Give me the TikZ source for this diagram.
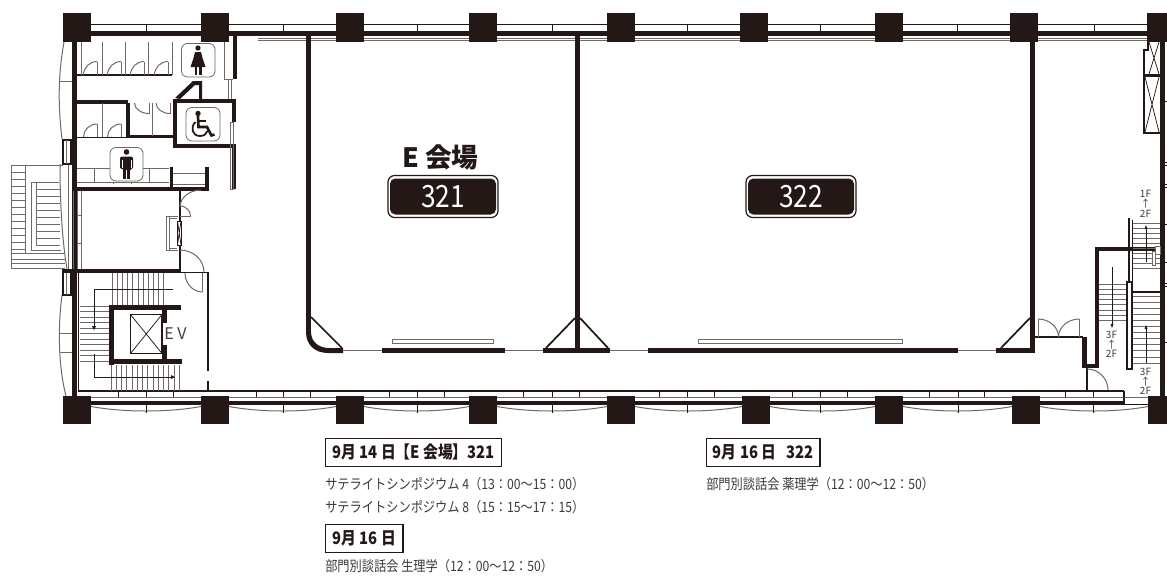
\documentclass[tikz,border=0pt]{standalone}
\usepackage{fontspec}
\newfontfamily\jp[FakeStretch=.86]{Noto Sans CJK JP}
\newfontfamily\jpw{Noto Sans CJK JP}
\definecolor{ink}{HTML}{231815}
\definecolor{gry}{HTML}{6F6A68}
\definecolor{txt}{HTML}{3E3A39}
\newcommand\W[4]{\fill[ink] (#1,#2) rectangle (#3,#4);}
\newcommand\DA[4]{(#1,#2) .. controls ({#1+.55*(#3-#1)},#2) and (#3,{#2+.45*(#4-#2)}) .. (#3,#4)}
\newcommand\fs[1]{\fontsize{#1}{#1}\selectfont}
\tikzset{
  thin ink/.style={draw=ink,line width=.8pt},
  hair/.style={draw=ink,line width=.55pt},
  grey/.style={draw=gry,line width=.75pt},
  sign/.style={draw=gry,line width=.6pt,rounded corners=4.5pt},
  box ink/.style={draw=ink,line width=1.5pt},
  room/.style={text=white,font=\jp\fs{23}},
  infobox/.style={draw=ink,line width=1pt,anchor=north west,inner sep=0pt,text=ink,font=\jp\bfseries\fs{12.9}},
  info/.style={anchor=west,inner sep=0pt,text=txt,font=\jp\fs{10.65}},
  floor/.style={text=txt,inner sep=0pt,font=\jpw\fs{7.5}}
}
\begin{document}
\begin{tikzpicture}[x=.75pt,y=-.75pt]
\useasboundingbox (0,0) rectangle (1167,575);
\fill[white] (0,0) rectangle (1167,575);
% ---------- top line and wall
\draw[thin ink] (91,24.5) -- (1147,24.5);
\foreach \x in {146,283,417,552,687,820,957,1094}{\draw[hair] (\x,24.5) -- (\x,31);}
\W{75}{31}{1165}{36}
\draw[grey] (258,38) -- (1147,38);
\draw[grey] (258,40) -- (1147,40);
% ---------- bottom line and wall
\draw[thin ink] (78,391) -- (1124,391);
\draw[grey] (91,397) -- (1124,397);
\W{75}{400.5}{1124}{405}
\draw[thin ink] (1124,391) -- (1124,404.5) -- (1148,404.5);
\draw[grey] (1124,397) -- (1148,397);
\foreach \x in {118,146,173,256,283,310,389,417,444,523,552,579,659,687,714,792,820,847,929,958,984,1065,1093}{\draw[hair] (\x,391) -- (\x,397);}
\foreach \a/\b/\c in {91/146/201,229/283/336,364/417/469,497/552/607,635/687/742,770/820/875,903/958/1012,1040/1093/1148}{
  \draw[grey] (\a,406.5) .. controls ({\a+.3*(\c-\a)},412.5) and ({\c-.3*(\c-\a)},412.5) .. (\c,406.5);
  \draw[hair] (\b,405) -- (\b,413);
}
% ---------- outer walls
\W{72}{42}{77}{396}
\W{1160}{42}{1165}{396}
\draw[thin ink] (78.5,273) -- (78.5,391);
\foreach \y in {101,162.5,165,184.5,187.5,224,262,283,286,342}{\draw[hair] (1165,\y) -- (1167,\y);}
% ---------- left bay windows
\draw[grey] (64,42) .. controls (58,75) and (58,105) .. (62,139);
\draw[grey] (60,81) -- (72,81);
\draw[grey] (62,295) .. controls (58,325) and (58,365) .. (66,396);
\draw[grey] (60,333) -- (72,333);
\draw[grey] (60,352) -- (72,352);
\draw[grey] (60,164) .. controls (60,200) and (62,240) .. (67,269);
\draw[grey] (68,164) -- (68,269);
\draw[grey] (73,190) -- (73,269);
\draw[grey] (77,190) -- (77,269);
\draw[grey] (81,190) -- (81,269);
\draw[grey] (77,215) -- (81,215);
\draw[grey] (77,243) -- (81,243);
\draw[box ink] (62.5,140) rectangle (71,164);
\draw[box ink] (62.5,270) rectangle (71,294.5);
\draw[grey] (66,140) -- (66,164);
\draw[grey] (66,270) -- (66,294.5);
% ---------- outside stair
\draw[grey] (11,165) -- (63,165);
\draw[grey] (11,165) -- (11,268) -- (65,268);
\draw[grey] (25,165) -- (25,253);
\draw[grey] (11,253) -- (64,253);
\draw[grey] (11,259) -- (65,259);
\draw[grey] (11,263) -- (65,263);
\foreach \y in {172,179,186,193,200,207,214,221,228,235,242,249}{\draw[grey] (11,\y) -- (25,\y);}
\draw[grey] (31,182) -- (31,250) -- (61,250);
\draw[grey] (36,182) -- (36,244.5);
\draw[grey] (31,182) -- (59,182);
\foreach \y in {189,196,203,210,217,224,231,238,245}{\draw[grey] (36,\y) -- (60,\y);}
% ---------- women's WC
\draw[thin ink] (77,75) -- (172,75);
\foreach \x in {81,102,125,148,172}{\draw[grey] (\x,42) -- (\x,75);}
\foreach \x in {97,121,144,168}{
  \draw[grey] (\x,61.5) -- (\x,75);
  \draw[grey] \DA{\x}{61.5}{\x-13.5}{75};
}
\draw[sign] (181.5,43.5) rectangle (215,77);
\fill[ink] (198,48) circle (2.6);
\fill[ink] (195,52) -- (201,52) -- (202.5,58) -- (205.5,67) -- (190.5,67) -- (193.5,58) -- cycle;
\fill[ink] (194.5,67) rectangle (197,75);
\fill[ink] (199,67) rectangle (201.5,75);
\draw[grey] (224,42) -- (224,79) -- (233,79);
\W{232.5}{36}{236.5}{79}
\draw[grey] (228.5,79) -- (228.5,99);
\draw[grey] (231.5,79) -- (231.5,99);
% ---------- accessible WC
\fill[ink] (175,98) -- (193,81) -- (202,81) -- (202,99) -- (199,99) -- (199,85) -- (195,85) -- (180,99) -- cycle;
\W{173}{99}{236}{103}
\W{232}{103}{236}{122}
\W{173}{99}{177}{147}
\W{173}{144}{236}{147.5}
\W{232}{144}{236}{189}
\draw[grey] (230,122) rectangle (233,189);
\draw[sign] (186,107.5) rectangle (220,141);
\fill[ink] (198,113.5) circle (2.7);
\draw[ink,line width=2pt] (198,116) -- (198.5,127) -- (207,127) -- (211.5,135.5) -- (214.5,134.5);
\draw[ink,line width=1.6pt] (198.5,121) -- (206,121);
\draw[ink,line width=1.3pt] (195.5,122) .. controls (190,127) and (192,136) .. (200,136) .. controls (204,136) and (206.5,134) .. (207.5,131);
% ---------- central stalls
\W{77}{100}{128}{103.5}
\W{126}{103}{129.5}{137}
\W{126}{135}{173}{138}
\draw[thin ink] (77,137.5) -- (126,137.5);
\draw[grey] (102,103) -- (102,137);
\foreach \x in {97,121}{
  \draw[grey] (\x,124) -- (\x,137);
  \draw[grey] \DA{\x}{124}{\x-13.5}{137};
}
\draw[grey] (152,103) -- (152,136);
\draw[grey] (149,103) -- (149,113.5);
\draw[grey] (170,103) -- (170,113.5);
\draw[grey] \DA{149}{113.5}{134.5}{103};
\draw[grey] \DA{170}{113.5}{156}{103};
% ---------- men's WC
\draw[sign] (110,147.5) rectangle (143,181);
\fill[ink] (126.5,152) circle (2.8);
\fill[ink,rounded corners=1.5pt] (120,156.5) rectangle (133,169);
\fill[ink] (122.5,160) rectangle (130.5,170);
\fill[ink] (122.8,168) rectangle (126,178.5);
\fill[ink] (127,168) rectangle (130.2,178.5);
\fill[white] (121.7,160) rectangle (122.4,168);
\fill[white] (130.6,160) rectangle (131.3,168);
\draw[grey] (77,168) -- (110,168);
\draw[grey] (143,168) -- (169,168);
\draw[grey] (77,182) -- (169,182);
\draw[grey] (94,168) -- (94,182);
\draw[grey] (149,168) -- (149,182);
\draw[grey] (113,182) -- (113,184);
\draw[grey] (131,182) -- (131,184);
\W{72}{187}{208.5}{190.5}
\W{169.5}{167}{173}{188}
\W{205}{167}{208.5}{190}
\draw[grey] (173,173) -- (205,173);
\draw[grey] (173,184) -- (205,184);
% ---------- lobby doors and device
\draw[ink,line width=1.2pt] (180,190) -- (180,270);
\draw[grey] \DA{201}{190}{180}{207};
\draw[grey] \DA{180}{206}{190.5}{216};
\draw[grey] (180,216) -- (190.5,216);
\draw[grey] (166,216) rectangle (169,250);
\draw[grey] (169,216) -- (178,216) (169,250) -- (178,250) (169,218) -- (177,218) (169,248) -- (177,248);
\draw[hair,fill=white] (177.5,221) rectangle (181,245);
\draw[hair] (177.5,221) -- (181,245) (181,221) -- (177.5,245);
\draw[grey] \DA{180}{250}{204}{272};
\W{62}{269}{181}{273}
\draw[thin ink] (181,272.5) -- (208,272.5);
\draw[ink,line width=1.1pt] (208,272) -- (208,371);
\draw[ink,line width=1.1pt] (208,381) -- (208,391);
\draw[grey] (202.5,273) -- (202.5,292);
\draw[grey] \DA{202.5}{292}{185}{273};
% ---------- elevator hall
\foreach \i in {0,...,10}{\draw[grey] ({112.5+5.1*\i},273) -- ({112.5+5.1*\i},305);}
\foreach \i in {0,...,10}{\draw[grey] (80,{306+5.5*\i}) -- (109,{306+5.5*\i});}
\foreach \i in {0,...,13}{\draw[grey] ({111+5.25*\i},365) -- ({111+5.25*\i},391);}
\W{109}{305}{114}{365}
\W{109}{305}{181}{310}
\W{109}{359}{182}{364}
\W{162}{310}{167}{323}
\W{162}{345}{167}{359}
\draw[thin ink] (130.5,314.5) rectangle (162,353.5);
\draw[hair] (130.5,314.5) -- (162,353.5) (162,314.5) -- (130.5,353.5);
\node (ev) [text=txt,inner sep=0pt,font=\jpw\fs{12}] at (175.5,334) {E V};
\draw[hair] (173,289) -- (94,289) -- (94,328);
\fill[ink] (92,326) -- (96,326) -- (94,330) -- cycle;
\draw[hair] (94,354) -- (94,377) -- (172,377);
\fill[ink] (171,375) -- (175,377) -- (171,379) -- cycle;
% ---------- rooms
\W{306}{36}{311}{333}
\fill[ink] (306,332) .. controls (306,345) and (315,353) .. (328,353) -- (343,353) -- (343,348) -- (329,348) .. controls (319,348) and (311,342) .. (311,332) -- cycle;
\draw[ink,line width=1.3pt] (311,317) -- (342,348);
\draw[grey] (343,350) -- (382,350);
\W{382}{348}{505}{353}
\draw[gry,line width=.7pt,fill=white] (392.5,339) rectangle (493.5,343);
\draw[grey] (505,350) -- (543,350);
\W{543}{348}{610}{353}
\W{575}{36}{580}{353}
\draw[ink,line width=1.3pt] (575,318) -- (546,348);
\draw[ink,line width=1.3pt] (580,318) -- (608,348);
\draw[grey] (610,350) -- (648,350);
\W{648}{348}{958}{353}
\draw[gry,line width=.7pt,fill=white] (698.5,339) rectangle (902.5,343);
\draw[grey] (958,350) -- (996,350);
\W{996}{348}{1035}{353}
\W{1030}{36}{1035}{353}
\draw[ink,line width=1.3pt] (1030,318) -- (1001,348);
% ---------- double door
\draw[thin ink] (1035,337) -- (1083,337);
\draw[grey] (1038,337) -- (1038,319);
\draw[grey] (1079.5,337) -- (1079.5,319);
\draw[grey] \DA{1038}{319}{1058.5}{337};
\draw[grey] \DA{1079.5}{319}{1058.5}{337};
% ---------- right stair core
\W{1095}{247}{1155}{251}
\W{1095}{247}{1099}{368}
\W{1082}{337}{1087}{368}
\W{1082}{364}{1099}{368}
\draw[ink,line width=1.1pt] (1087,368) -- (1087,391);
\draw[grey] \DA{1087}{369}{1108}{390};
\foreach \i in {0,...,7}{\draw[grey] (1099,{284+5.2*\i}) -- (1126,{284+5.2*\i});}
\foreach \i in {0,...,9}{\draw[grey] (1133,{223+5*\i}) -- (1160,{223+5*\i});}
\foreach \i in {0,...,11}{\draw[grey] (1133,{296+6.1*\i}) -- (1160,{296+6.1*\i});}
\draw[ink,line width=1.1pt] (1129,218) -- (1129,282);
\draw[ink,line width=1.1pt] (1132.5,220) -- (1132.5,292);
\draw[box ink] (1126.5,282) -- (1126.5,369) -- (1132,369) -- (1132,282) -- cycle;
\W{1132}{291}{1160}{293}
\draw[grey,fill=white] (1155,246) rectangle (1160,254);
\draw[grey,fill=white] (1152,251) rectangle (1155,265);
\draw[hair] (1112,267) -- (1112,325);
\fill[ink] (1110.5,324) -- (1113.5,324) -- (1112,328) -- cycle;
\draw[hair] (1146,262) -- (1146,228);
\fill[ink] (1144.5,229) -- (1147.5,229) -- (1146,225) -- cycle;
\draw[hair] (1146,363) -- (1146,328);
\fill[ink] (1144.5,329) -- (1147.5,329) -- (1146,325) -- cycle;
\node (fa1) [floor] at (1145.5,194) {1F};
\node (fa2) [floor] at (1145.5,204) {↑};
\node (fa3) [floor] at (1145.5,214) {2F};
\node (fb1) [floor] at (1111.5,335) {3F};
\node (fb2) [floor] at (1111.5,344.5) {↑};
\node (fb3) [floor] at (1111.5,354) {2F};
\node (fc1) [floor] at (1145.5,372) {3F};
\node (fc2) [floor] at (1145.5,381.5) {↑};
\node (fc3) [floor] at (1145.5,390.5) {2F};
% ---------- shaft top right
\draw[box ink] (1148,42) -- (1148,50) -- (1143.5,50) -- (1143.5,132.5) -- (1160,132.5);
\W{1143}{74}{1160}{77}
\draw[hair] (1149,42) -- (1159,74) (1159,42) -- (1149,74);
\draw[hair] (1145,77) -- (1159,132) (1159,77) -- (1145,132);
% ---------- columns
\foreach \x in {63,201,336,469,607,740,875,1010,1147}{\fill[ink] (\x,13) rectangle (\x+28,42);}
\foreach \x in {63,201,336,469,607,742,875,1012,1148}{\fill[ink] (\x,396) rectangle (\x+28,424);}
% ---------- labels
\node (hall) [inner sep=0pt,text=ink,font=\jpw\bfseries\fs{20}] at (440.5,157) {E 会場};
\draw[ink,line width=.9pt,rounded corners=5pt] (388,175.5) rectangle (498,217.5);
\node (r321) [fill=ink,rounded corners=4pt,minimum width=79.5pt,minimum height=27pt,room] at (443,196.5) {321};
\draw[ink,line width=.9pt,rounded corners=5pt] (746,175.5) rectangle (856,217.5);
\node (r322) [fill=ink,rounded corners=4pt,minimum width=79.5pt,minimum height=27pt,room] at (801,196.5) {322};
% ---------- schedule
\node (b1) [infobox,minimum width=132pt,minimum height=21pt] at (325,437.5) {9月 14 日【E 会場】321};
\node (b2) [infobox,minimum width=58pt,minimum height=21pt] at (325,523.5) {9月 16 日};
\node (b3) [infobox,minimum width=85pt,minimum height=21pt] at (706,438) {9月 16 日\hspace{.6em}322};
\node (t1) [info] at (325,484) {サテライトシンポジウム 4（13：00～15：00）};
\node (t2) [info] at (325,507.5) {サテライトシンポジウム 8（15：15～17：15）};
\node (t3) [info] at (325,566.5) {部門別談話会 生理学（12：00～12：50）};
\node (t4) [info] at (706,484) {部門別談話会 薬理学（12：00～12：50）};
\end{tikzpicture}
\end{document}
